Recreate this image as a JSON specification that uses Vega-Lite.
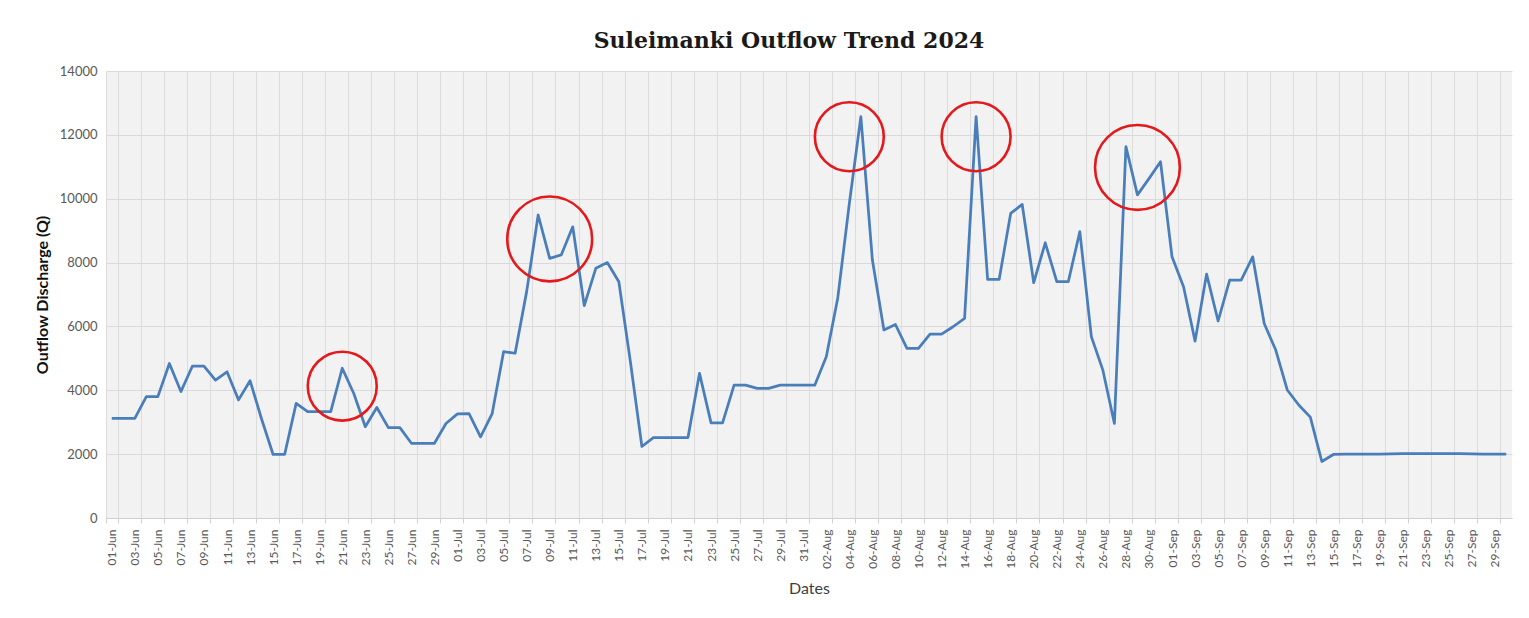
{
  "$schema": "https://vega.github.io/schema/vega-lite/v6.json",
  "width": 1406,
  "height": 447,
  "autosize": {"type": "none"},
  "padding": {"left": 106, "top": 71, "right": 17, "bottom": 100},
  "background": "white",
  "config": {
    "view": {"fill": "#f2f2f2", "stroke": null},
    "font": "Lato"
  },
  "title": {
    "text": "Suleimanki Outflow Trend 2024",
    "font": "DejaVu Serif",
    "fontSize": 22,
    "fontWeight": "bold",
    "color": "#1a1a1a",
    "anchor": "middle",
    "dx": -20,
    "offset": 12
  },
  "data": {
    "values": [
      {"date": "01-Jun", "outflow": 3120},
      {"date": "02-Jun", "outflow": 3120},
      {"date": "03-Jun", "outflow": 3120},
      {"date": "04-Jun", "outflow": 3800},
      {"date": "05-Jun", "outflow": 3800},
      {"date": "06-Jun", "outflow": 4840},
      {"date": "07-Jun", "outflow": 3960},
      {"date": "08-Jun", "outflow": 4760},
      {"date": "09-Jun", "outflow": 4760},
      {"date": "10-Jun", "outflow": 4320},
      {"date": "11-Jun", "outflow": 4580},
      {"date": "12-Jun", "outflow": 3700},
      {"date": "13-Jun", "outflow": 4300},
      {"date": "14-Jun", "outflow": 3100},
      {"date": "15-Jun", "outflow": 1990},
      {"date": "16-Jun", "outflow": 1990},
      {"date": "17-Jun", "outflow": 3590},
      {"date": "18-Jun", "outflow": 3330},
      {"date": "19-Jun", "outflow": 3330},
      {"date": "20-Jun", "outflow": 3330},
      {"date": "21-Jun", "outflow": 4690, "peak": 4130},
      {"date": "22-Jun", "outflow": 3900},
      {"date": "23-Jun", "outflow": 2860},
      {"date": "24-Jun", "outflow": 3460},
      {"date": "25-Jun", "outflow": 2830},
      {"date": "26-Jun", "outflow": 2830},
      {"date": "27-Jun", "outflow": 2340},
      {"date": "28-Jun", "outflow": 2340},
      {"date": "29-Jun", "outflow": 2340},
      {"date": "30-Jun", "outflow": 2960},
      {"date": "01-Jul", "outflow": 3260},
      {"date": "02-Jul", "outflow": 3270},
      {"date": "03-Jul", "outflow": 2540},
      {"date": "04-Jul", "outflow": 3260},
      {"date": "05-Jul", "outflow": 5210},
      {"date": "06-Jul", "outflow": 5160},
      {"date": "07-Jul", "outflow": 7090},
      {"date": "08-Jul", "outflow": 9490},
      {"date": "09-Jul", "outflow": 8130, "peak": 8740},
      {"date": "10-Jul", "outflow": 8240},
      {"date": "11-Jul", "outflow": 9120},
      {"date": "12-Jul", "outflow": 6650},
      {"date": "13-Jul", "outflow": 7820},
      {"date": "14-Jul", "outflow": 8000},
      {"date": "15-Jul", "outflow": 7400},
      {"date": "16-Jul", "outflow": 4900},
      {"date": "17-Jul", "outflow": 2240},
      {"date": "18-Jul", "outflow": 2520},
      {"date": "19-Jul", "outflow": 2520},
      {"date": "20-Jul", "outflow": 2520},
      {"date": "21-Jul", "outflow": 2520},
      {"date": "22-Jul", "outflow": 4530},
      {"date": "23-Jul", "outflow": 2980},
      {"date": "24-Jul", "outflow": 2980},
      {"date": "25-Jul", "outflow": 4160},
      {"date": "26-Jul", "outflow": 4160},
      {"date": "27-Jul", "outflow": 4060},
      {"date": "28-Jul", "outflow": 4060},
      {"date": "29-Jul", "outflow": 4160},
      {"date": "30-Jul", "outflow": 4160},
      {"date": "31-Jul", "outflow": 4160},
      {"date": "01-Aug", "outflow": 4160},
      {"date": "02-Aug", "outflow": 5050},
      {"date": "03-Aug", "outflow": 6900},
      {"date": "04-Aug", "outflow": 9850, "peak": 11940},
      {"date": "05-Aug", "outflow": 12570},
      {"date": "06-Aug", "outflow": 8080},
      {"date": "07-Aug", "outflow": 5890},
      {"date": "08-Aug", "outflow": 6060},
      {"date": "09-Aug", "outflow": 5310},
      {"date": "10-Aug", "outflow": 5310},
      {"date": "11-Aug", "outflow": 5760},
      {"date": "12-Aug", "outflow": 5760},
      {"date": "13-Aug", "outflow": 5990},
      {"date": "14-Aug", "outflow": 6250},
      {"date": "15-Aug", "outflow": 12570, "peak": 11940},
      {"date": "16-Aug", "outflow": 7470},
      {"date": "17-Aug", "outflow": 7470},
      {"date": "18-Aug", "outflow": 9540},
      {"date": "19-Aug", "outflow": 9820},
      {"date": "20-Aug", "outflow": 7370},
      {"date": "21-Aug", "outflow": 8620},
      {"date": "22-Aug", "outflow": 7400},
      {"date": "23-Aug", "outflow": 7400},
      {"date": "24-Aug", "outflow": 8970},
      {"date": "25-Aug", "outflow": 5680},
      {"date": "26-Aug", "outflow": 4630},
      {"date": "27-Aug", "outflow": 2960},
      {"date": "28-Aug", "outflow": 11630},
      {"date": "29-Aug", "outflow": 10120, "peak": 10980},
      {"date": "30-Aug", "outflow": 10630},
      {"date": "31-Aug", "outflow": 11160},
      {"date": "01-Sep", "outflow": 8180},
      {"date": "02-Sep", "outflow": 7240},
      {"date": "03-Sep", "outflow": 5540},
      {"date": "04-Sep", "outflow": 7640},
      {"date": "05-Sep", "outflow": 6170},
      {"date": "06-Sep", "outflow": 7450},
      {"date": "07-Sep", "outflow": 7450},
      {"date": "08-Sep", "outflow": 8180},
      {"date": "09-Sep", "outflow": 6090},
      {"date": "10-Sep", "outflow": 5260},
      {"date": "11-Sep", "outflow": 4010},
      {"date": "12-Sep", "outflow": 3540},
      {"date": "13-Sep", "outflow": 3160},
      {"date": "14-Sep", "outflow": 1770},
      {"date": "15-Sep", "outflow": 1990},
      {"date": "16-Sep", "outflow": 2000},
      {"date": "17-Sep", "outflow": 2000},
      {"date": "18-Sep", "outflow": 2000},
      {"date": "19-Sep", "outflow": 2000},
      {"date": "20-Sep", "outflow": 2010},
      {"date": "21-Sep", "outflow": 2020},
      {"date": "22-Sep", "outflow": 2020},
      {"date": "23-Sep", "outflow": 2020},
      {"date": "24-Sep", "outflow": 2020},
      {"date": "25-Sep", "outflow": 2020},
      {"date": "26-Sep", "outflow": 2020},
      {"date": "27-Sep", "outflow": 2010},
      {"date": "28-Sep", "outflow": 2000},
      {"date": "29-Sep", "outflow": 2000},
      {"date": "30-Sep", "outflow": 2000}
    ]
  },
  "encoding": {
    "x": {
      "field": "date",
      "type": "ordinal",
      "sort": null,
      "scale": {
        "paddingInner": 0,
        "paddingOuter": 0,
        "domain": ["01-Jun","02-Jun","03-Jun","04-Jun","05-Jun","06-Jun","07-Jun","08-Jun","09-Jun","10-Jun","11-Jun","12-Jun","13-Jun","14-Jun","15-Jun","16-Jun","17-Jun","18-Jun","19-Jun","20-Jun","21-Jun","22-Jun","23-Jun","24-Jun","25-Jun","26-Jun","27-Jun","28-Jun","29-Jun","30-Jun","01-Jul","02-Jul","03-Jul","04-Jul","05-Jul","06-Jul","07-Jul","08-Jul","09-Jul","10-Jul","11-Jul","12-Jul","13-Jul","14-Jul","15-Jul","16-Jul","17-Jul","18-Jul","19-Jul","20-Jul","21-Jul","22-Jul","23-Jul","24-Jul","25-Jul","26-Jul","27-Jul","28-Jul","29-Jul","30-Jul","31-Jul","01-Aug","02-Aug","03-Aug","04-Aug","05-Aug","06-Aug","07-Aug","08-Aug","09-Aug","10-Aug","11-Aug","12-Aug","13-Aug","14-Aug","15-Aug","16-Aug","17-Aug","18-Aug","19-Aug","20-Aug","21-Aug","22-Aug","23-Aug","24-Aug","25-Aug","26-Aug","27-Aug","28-Aug","29-Aug","30-Aug","31-Aug","01-Sep","02-Sep","03-Sep","04-Sep","05-Sep","06-Sep","07-Sep","08-Sep","09-Sep","10-Sep","11-Sep","12-Sep","13-Sep","14-Sep","15-Sep","16-Sep","17-Sep","18-Sep","19-Sep","20-Sep","21-Sep","22-Sep","23-Sep","24-Sep","25-Sep","26-Sep","27-Sep","28-Sep","29-Sep","30-Sep"]
      },
      "axis": {
        "title": "Dates",
        "titleFont": "Lato",
        "titleFontSize": 16,
        "titleFontWeight": "normal",
        "titleColor": "#404040",
        "titlePadding": 12,
        "values": ["01-Jun","03-Jun","05-Jun","07-Jun","09-Jun","11-Jun","13-Jun","15-Jun","17-Jun","19-Jun","21-Jun","23-Jun","25-Jun","27-Jun","29-Jun","01-Jul","03-Jul","05-Jul","07-Jul","09-Jul","11-Jul","13-Jul","15-Jul","17-Jul","19-Jul","21-Jul","23-Jul","25-Jul","27-Jul","29-Jul","31-Jul","02-Aug","04-Aug","06-Aug","08-Aug","10-Aug","12-Aug","14-Aug","16-Aug","18-Aug","20-Aug","22-Aug","24-Aug","26-Aug","28-Aug","30-Aug","01-Sep","03-Sep","05-Sep","07-Sep","09-Sep","11-Sep","13-Sep","15-Sep","17-Sep","19-Sep","21-Sep","23-Sep","25-Sep","27-Sep","29-Sep"],
        "labelAngle": -90,
        "labelFontSize": 12,
        "labelColor": "#595959",
        "labelPadding": 6,
        "tickBand": "extent",
        "grid": true,
        "gridColor": "#dcdcdc",
        "gridWidth": 1,
        "domainColor": "#d0d0d0",
        "tickColor": "#d0d0d0",
        "tickSize": 5
      }
    }
  },
  "layer": [
    {
      "mark": {"type": "line", "color": "#4a7ebb", "strokeWidth": 2.75, "strokeJoin": "round"},
      "encoding": {
        "y": {
          "field": "outflow",
          "type": "quantitative",
          "scale": {"domain": [0, 14000], "nice": false},
          "axis": {
            "title": "Outflow Discharge (Q)",
            "titleFont": "Lato",
            "titleFontSize": 16,
            "titleFontWeight": "bold",
            "titleColor": "#111111",
            "titlePadding": 9,
            "values": [0, 2000, 4000, 6000, 8000, 10000, 12000, 14000],
            "format": "d",
            "labelFontSize": 13,
            "labelColor": "#595959",
            "labelPadding": 9,
            "ticks": false,
            "domain": false,
            "grid": true,
            "gridColor": "#d9d9d9"
          }
        }
      }
    },
    {
      "transform": [{"filter": {"field": "date", "oneOf": ["21-Jun", "04-Aug", "15-Aug"]}}],
      "mark": {"type": "point", "shape": "circle", "filled": false, "color": "#e3191c", "strokeWidth": 2.6, "size": 4750, "opacity": 1},
      "encoding": {
        "y": {"field": "peak", "type": "quantitative"}
      }
    },
    {
      "transform": [{"filter": {"field": "date", "oneOf": ["09-Jul", "29-Aug"]}}],
      "mark": {"type": "point", "shape": "circle", "filled": false, "color": "#e3191c", "strokeWidth": 2.6, "size": 7200, "opacity": 1},
      "encoding": {
        "y": {"field": "peak", "type": "quantitative"}
      }
    }
  ]
}
